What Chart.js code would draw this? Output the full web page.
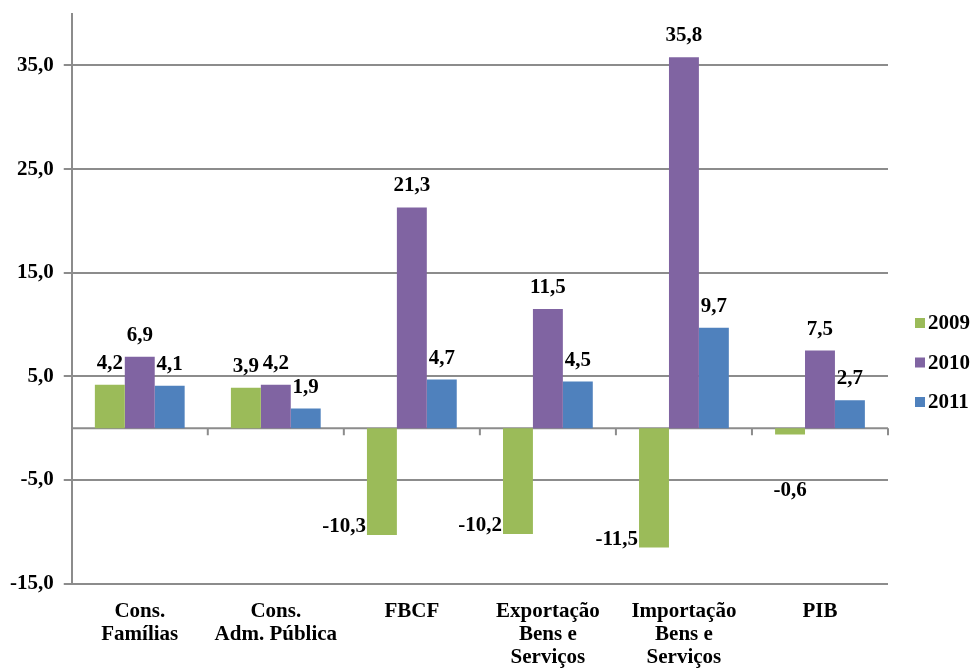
<!DOCTYPE html>
<html>
<head>
<meta charset="utf-8">
<script src="https://cdn.jsdelivr.net/npm/chart.js@4/dist/chart.umd.min.js"></script>
<style>
  html, body { margin: 0; padding: 0; background: #fff; }
  #wrap { width: 974px; height: 668px; }
</style>
</head>
<body>
<div id="wrap"><canvas id="chart" width="974" height="668"></canvas></div>
<script>
const categories = [
  ["Cons.", "Famílias"],
  ["Cons.", "Adm. Pública"],
  ["FBCF"],
  ["Exportação", "Bens e", "Serviços"],
  ["Importação", "Bens e", "Serviços"],
  ["PIB"]
];
const years = ["2009", "2010", "2011"];
const values2009 = [4.2, 3.9, -10.3, -10.2, -11.5, -0.6];
const values2010 = [6.9, 4.2, 21.3, 11.5, 35.8, 7.5];
const values2011 = [4.1, 1.9, 4.7, 4.5, 9.7, 2.7];
const yTicks = [-15, -5, 5, 15, 25, 35];

const colors = ["#9BBB59", "#8064A2", "#4F81BD"];
const gridColor = "#8c8c8c";
const serif = "'Liberation Serif', 'Times New Roman', serif";
const boldFont = "bold 21px " + serif;

function fmt(v) {
  return v.toFixed(1).replace(".", ",");
}

// zero line with the little category ticks hanging below it
const zeroLine = {
  id: "zeroLine",
  beforeDatasetsDraw(chart) {
    const ctx = chart.ctx;
    const area = chart.chartArea;
    const y0 = chart.scales.y.getPixelForValue(0);
    const n = categories.length;
    const step = (area.right - area.left) / n;
    ctx.save();
    ctx.strokeStyle = gridColor;
    ctx.lineWidth = 2;
    ctx.beginPath();
    ctx.moveTo(area.left, y0);
    ctx.lineTo(area.right, y0);
    for (let i = 1; i <= n; i++) {
      const x = area.left + i * step;
      ctx.moveTo(x, y0);
      ctx.lineTo(x, y0 + 7);
    }
    ctx.stroke();
    ctx.restore();
  }
};

const valueLabels = {
  id: "valueLabels",
  afterDatasetsDraw(chart) {
    const ctx = chart.ctx;
    ctx.save();
    ctx.font = boldFont;
    ctx.fillStyle = "#000";
    chart.data.datasets.forEach((ds, di) => {
      const meta = chart.getDatasetMeta(di);
      meta.data.forEach((bar, i) => {
        const v = ds.data[i];
        const p = bar.getProps(["x", "y", "base", "width"], true);
        if (v >= 0) {
          ctx.textAlign = "center";
          ctx.textBaseline = "alphabetic";
          ctx.fillText(fmt(v), p.x, p.y - 16);
        } else if (p.y - p.base < 20) {
          ctx.textAlign = "center";
          ctx.textBaseline = "middle";
          ctx.fillText(fmt(v), p.x, p.y + 56);
        } else {
          ctx.textAlign = "right";
          ctx.textBaseline = "middle";
          ctx.fillText(fmt(v), p.x - p.width / 2 - 1, p.y - 8);
        }
      });
    });
    ctx.restore();
  }
};

const sideLegend = {
  id: "sideLegend",
  afterDraw(chart) {
    const ctx = chart.ctx;
    const x = chart.chartArea.right + 27;
    ctx.save();
    ctx.font = boldFont;
    ctx.textAlign = "left";
    ctx.textBaseline = "middle";
    chart.data.datasets.forEach((ds, i) => {
      const y = 323 + i * 39.5;
      ctx.fillStyle = ds.backgroundColor;
      ctx.fillRect(x, y - 5, 10, 10);
      ctx.fillStyle = "#000";
      ctx.fillText(ds.label, x + 13, y + 1);
    });
    ctx.restore();
  }
};

const config = {
  type: "bar",
  data: {
    labels: categories,
    datasets: [
      { label: years[0], data: values2009, backgroundColor: colors[0] },
      { label: years[1], data: values2010, backgroundColor: colors[1] },
      { label: years[2], data: values2011, backgroundColor: colors[2] }
    ]
  },
  options: {
    responsive: false,
    animation: false,
    layout: { padding: { top: 0, right: 86, left: 0, bottom: -9 } },
    datasets: {
      bar: { categoryPercentage: 0.66, barPercentage: 1.0, borderWidth: 0 }
    },
    plugins: {
      legend: { display: false },
      tooltip: { enabled: false }
    },
    scales: {
      x: {
        grid: { display: false },
        border: { display: false },
        ticks: {
          color: "#000",
          font: { family: serif, size: 21, weight: "bold", lineHeight: 1.1 },
          padding: 8,
          maxRotation: 0,
          autoSkip: false
        }
      },
      y: {
        min: -15,
        max: 40,
        afterBuildTicks(scale) {
          scale.ticks = yTicks.map(v => ({ value: v }));
        },
        border: { color: gridColor, width: 2 },
        grid: { color: gridColor, lineWidth: 2, tickLength: 8, tickColor: gridColor },
        ticks: {
          color: "#000",
          font: { family: serif, size: 21, weight: "bold", lineHeight: 0.35 },
          padding: 10,
          callback: v => fmt(v)
        }
      }
    }
  },
  plugins: [zeroLine, valueLabels, sideLegend]
};

new Chart(document.getElementById("chart"), config);
</script>
</body>
</html>
